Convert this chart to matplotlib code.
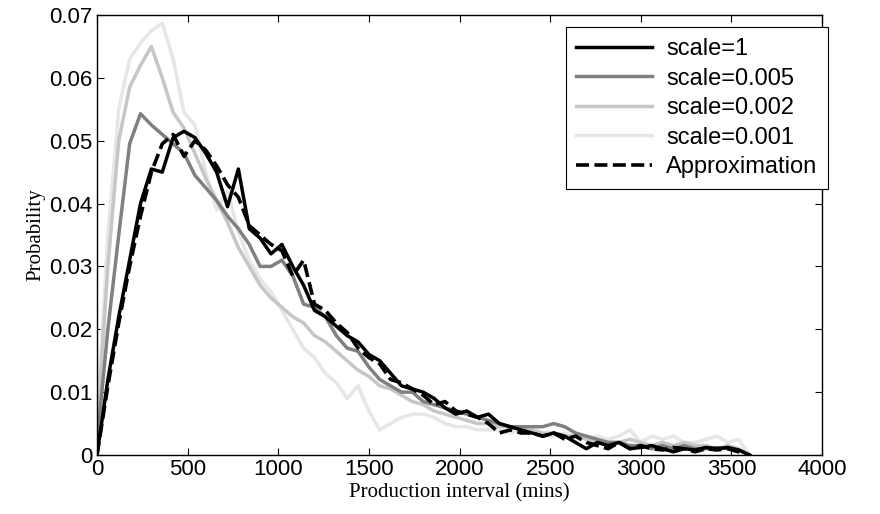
import numpy as np
import matplotlib.pyplot as plt

# production interval bins (mins)
x = np.arange(0, 3601, 60)

scale_1 = [0, 0.012, 0.022, 0.031, 0.040, 0.0455, 0.045, 0.0505, 0.0515, 0.0505,
           0.048, 0.045, 0.0395, 0.0455, 0.036, 0.0345, 0.032, 0.0335, 0.030, 0.027,
           0.023, 0.022, 0.0205, 0.019, 0.018, 0.016, 0.015, 0.013, 0.011, 0.0105,
           0.010, 0.009, 0.0075, 0.0065, 0.007, 0.006, 0.0065, 0.005, 0.0045, 0.004,
           0.0035, 0.003, 0.0035, 0.003, 0.002, 0.001, 0.002, 0.0015, 0.002, 0.001,
           0.0012, 0.0015, 0.001, 0.0005, 0.001, 0.0008, 0.0012, 0.001, 0.0012, 0.0008, 0]
scale_005 = [0.002, 0.020, 0.035, 0.0495, 0.0543, 0.0525, 0.051, 0.0495, 0.048, 0.0445,
             0.0425, 0.0405, 0.038, 0.036, 0.0335, 0.030, 0.030, 0.031, 0.0285, 0.024,
             0.0235, 0.022, 0.019, 0.017, 0.0165, 0.014, 0.012, 0.011, 0.010, 0.010,
             0.0085, 0.008, 0.0075, 0.007, 0.0065, 0.006, 0.0055, 0.005, 0.0045, 0.0045,
             0.0045, 0.0045, 0.005, 0.0045, 0.0035, 0.003, 0.0025, 0.002, 0.002, 0.0015,
             0.0015, 0.001, 0.0015, 0.001, 0.0015, 0.001, 0.001, 0.0012, 0.001, 0.0008, 0]
scale_002 = [0.004, 0.030, 0.050, 0.0585, 0.062, 0.065, 0.060, 0.0545, 0.052, 0.048,
             0.044, 0.0405, 0.037, 0.033, 0.030, 0.027, 0.025, 0.0235, 0.022, 0.021,
             0.019, 0.018, 0.0165, 0.015, 0.0135, 0.0125, 0.011, 0.0105, 0.0095, 0.0085,
             0.008, 0.007, 0.0065, 0.006, 0.0055, 0.005, 0.005, 0.0045, 0.0045, 0.004,
             0.004, 0.0035, 0.0035, 0.003, 0.003, 0.0025, 0.002, 0.002, 0.002, 0.0025,
             0.002, 0.0015, 0.002, 0.0015, 0.002, 0.0015, 0.0015, 0.001, 0.0015, 0.001, 0]
scale_001 = [0.006, 0.035, 0.055, 0.063, 0.0655, 0.0675, 0.0687, 0.063, 0.0545, 0.0525,
             0.045, 0.039, 0.042, 0.0355, 0.031, 0.028, 0.026, 0.023, 0.020, 0.017,
             0.0155, 0.013, 0.0115, 0.009, 0.011, 0.007, 0.004, 0.005, 0.006, 0.0065,
             0.0065, 0.006, 0.005, 0.0045, 0.0045, 0.004, 0.004, 0.004, 0.0035, 0.004,
             0.0035, 0.003, 0.003, 0.0035, 0.003, 0.0025, 0.003, 0.0025, 0.003, 0.004,
             0.002, 0.003, 0.0025, 0.003, 0.002, 0.002, 0.0025, 0.003, 0.002, 0.0025, 0]
approx = [0, 0.011, 0.021, 0.030, 0.038, 0.045, 0.0495, 0.051, 0.0475, 0.050,
          0.0485, 0.046, 0.043, 0.041, 0.0365, 0.035, 0.0335, 0.0325, 0.0285, 0.031,
          0.024, 0.023, 0.021, 0.0195, 0.017, 0.0155, 0.0145, 0.012, 0.0115, 0.0105,
          0.0095, 0.008, 0.0085, 0.007, 0.0065, 0.006, 0.005, 0.0035, 0.004, 0.0035,
          0.0035, 0.003, 0.0035, 0.0025, 0.003, 0.002, 0.0015, 0.001, 0.002, 0.001,
          0.0015, 0.001, 0.0008, 0.0012, 0.001, 0.0005, 0.001, 0.0008, 0.001, 0.0005, 0]

series = [
    (scale_1, "scale=1", "#000000"),
    (scale_005, "scale=0.005", "#808080"),
    (scale_002, "scale=0.002", "#c6c6c6"),
    (scale_001, "scale=0.001", "#e6e6e6"),
]

fig = plt.figure(figsize=(8.8, 5.14), dpi=100)
# axes box in pixels: left 97, right 822, top 15, bottom 455
ax = fig.add_axes([97 / 880, 1 - 455 / 514, 725 / 880, 440 / 514])

# draw light curves first so the dark ones sit on top
for y, lab, col in reversed(series):
    ax.plot(x, y, color=col, lw=2.5, label=lab)
ax.plot(x, approx, color="black", lw=2.6, ls=(0, (3.6, 1.5)), label="Approximation")

ax.set_xlim(0, 4000)
ax.set_ylim(0, 0.07)
ax.set_xticks(np.arange(0, 4001, 500))
ax.set_yticks(np.arange(0, 0.0701, 0.01))
ax.set_yticklabels(["0", "0.01", "0.02", "0.03", "0.04", "0.05", "0.06", "0.07"])
ax.tick_params(direction="in", top=True, right=True, length=5, width=0.8,
               labelsize=16, pad=3)
for lbl in ax.get_xticklabels() + ax.get_yticklabels():
    lbl.set_family("Liberation Sans")
for s in ax.spines.values():
    s.set_linewidth(1.0)

ax.set_xlabel("Production interval (mins)", family="Liberation Serif", fontsize=15, labelpad=2)
ax.set_ylabel("Probability", family="Liberation Serif", fontsize=15, labelpad=3)

handles, labels = ax.get_legend_handles_labels()
order = [3, 2, 1, 0, 4]
leg = ax.legend([handles[i] for i in order], [labels[i] for i in order],
                loc="upper right", bbox_to_anchor=(1.008, 0.972), borderaxespad=0,
                fancybox=False, framealpha=1, edgecolor="black",
                prop={"family": "Liberation Sans", "size": 17},
                handlelength=3.2, handletextpad=0.6, labelspacing=0.32,
                borderpad=0.45)
leg.get_frame().set_linewidth(0.8)

fig.savefig("out.png", dpi=100)
